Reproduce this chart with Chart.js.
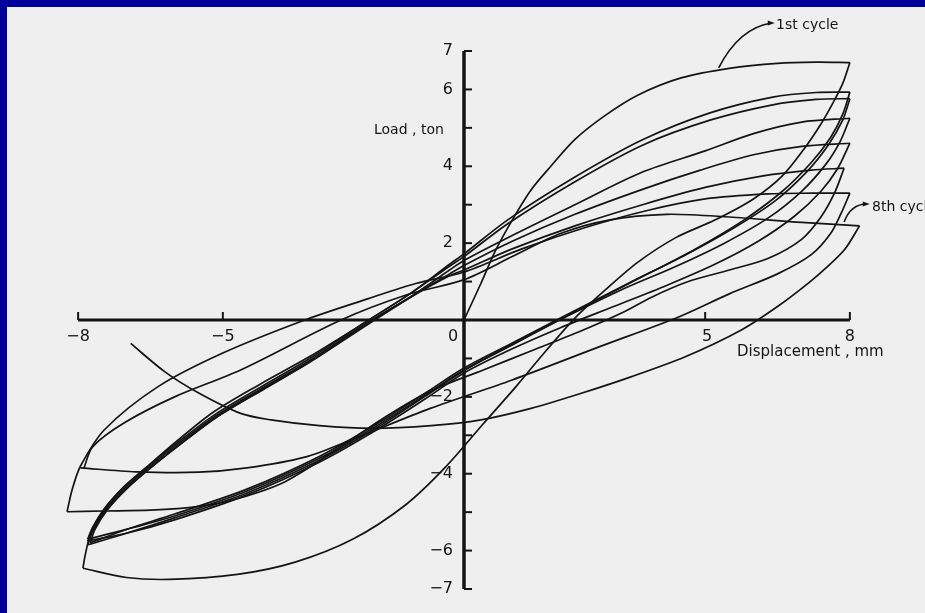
<!DOCTYPE html>
<html lang="en">
<head>
<meta charset="UTF-8">
<title>Load - displacement cycles</title>
<script src="https://cdn.jsdelivr.net/npm/chart.js"></script>
<style>
  body { margin: 0; padding: 0; }
  #frame { position: relative; width: 925px; height: 613px; background: #00009a; overflow: hidden; }
  #paper { position: absolute; left: 7px; top: 7px; right: 0; bottom: 0; background: #efefef; }
  #chart { position: absolute; left: 0; top: 0; }
</style>
</head>
<body>

<div id="frame">
  <div id="paper"></div>
  <canvas id="chart" width="925" height="613"></canvas>
</div>

<script>
// displacement (mm), load (ton) pairs for each branch of the test
const virgin = [[0,0],[0.35,0.95],[0.65,1.8],[1.0,2.6],[1.4,3.4],[1.8,4.0],[2.3,4.7],[2.9,5.3],[3.6,5.85],[4.5,6.3],[5.5,6.55],[6.5,6.68],[7.3,6.71],[8.0,6.7]];

// unloading / reverse loading, right peak -> left peak
const down1 = [[8.0,6.7],[7.85,6.15],[7.65,5.65],[7.4,5.1],[7.05,4.45],[6.6,3.75],[6.0,3.15],[5.2,2.6],[4.4,2.15],[3.6,1.5],[2.9,0.75],[2.3,0.05],[1.7,-0.8],[1.1,-1.7],[0.4,-2.7],[-0.4,-3.85],[-1.2,-4.8],[-2.3,-5.7],[-3.5,-6.3],[-4.7,-6.62],[-6.1,-6.75],[-7.0,-6.7],[-7.9,-6.46]];
const down2 = [[8.0,5.93],[7.85,5.35],[7.6,4.75],[7.2,4.1],[6.6,3.35],[5.8,2.6],[4.8,1.85],[3.5,1.0],[2.0,0.02],[1.0,-0.65],[0,-1.3],[-0.8,-1.95],[-1.8,-2.75],[-3.0,-3.6],[-4.5,-4.45],[-6.0,-5.1],[-7.0,-5.45],[-7.8,-5.7]];
const down3 = [[8.0,5.76],[7.85,5.2],[7.55,4.55],[7.1,3.85],[6.45,3.1],[5.6,2.4],[4.6,1.7],[3.4,0.95],[2.0,0.05],[1.0,-0.6],[0,-1.25],[-0.8,-1.9],[-1.8,-2.7],[-3.0,-3.55],[-4.5,-4.4],[-6.0,-5.05],[-7.0,-5.45],[-7.75,-5.8]];
const down4 = [[8.0,5.25],[7.8,4.65],[7.5,4.05],[7.0,3.35],[6.3,2.65],[5.4,2.0],[4.4,1.4],[3.2,0.75],[1.9,-0.05],[0.9,-0.7],[0,-1.32],[-0.8,-1.98],[-1.8,-2.8],[-3.0,-3.65],[-4.5,-4.5],[-6.0,-5.15],[-7.0,-5.55],[-7.8,-5.85]];
const down5 = [[8.0,4.6],[7.75,3.95],[7.4,3.35],[6.85,2.7],[6.1,2.05],[5.2,1.45],[4.2,0.9],[3.1,0.35],[2.0,-0.2],[1.0,-0.75],[0,-1.38],[-0.8,-2.05],[-1.8,-2.85],[-3.0,-3.7],[-4.5,-4.55],[-6.0,-5.2],[-7.0,-5.55],[-7.8,-5.75]];
const down6 = [[7.88,3.95],[7.68,3.3],[7.4,2.68],[7.0,2.1],[6.3,1.6],[5.5,1.3],[4.65,1.0],[3.9,0.6],[3.3,0.2],[2.4,-0.3],[1.4,-0.8],[0.4,-1.3],[-0.7,-1.85],[-1.6,-2.5],[-2.5,-3.25],[-3.7,-4.2],[-4.7,-4.65],[-5.5,-4.85],[-6.5,-4.95],[-7.5,-4.97],[-8.23,-4.99]];
const down7 = [[8.0,3.3],[7.82,2.78],[7.6,2.25],[7.2,1.7],[6.5,1.2],[5.5,0.68],[4.45,0.08],[2.8,-0.7],[1.0,-1.56],[-0.7,-2.3],[-2.3,-3.1],[-3.3,-3.57],[-4.5,-3.85],[-5.5,-3.96],[-6.8,-3.95],[-7.95,-3.85]];
const down8 = [[8.2,2.45],[7.9,1.85],[7.5,1.35],[7.14,0.96],[6.5,0.35],[5.75,-0.26],[4.6,-0.95],[3.46,-1.48],[2.4,-1.92],[1.39,-2.3],[0.35,-2.6],[-0.68,-2.75],[-1.9,-2.82],[-3.0,-2.75],[-4.0,-2.6],[-4.63,-2.43],[-5.5,-1.9],[-6.2,-1.35],[-6.91,-0.61]];

// reloading, left peak -> next right peak
const up1 = [[-7.9,-6.46],[-7.85,-6.1],[-7.75,-5.6],[-7.5,-5.0],[-7.1,-4.4],[-6.6,-3.85],[-6.0,-3.2],[-5.2,-2.4],[-4.2,-1.65],[-3.2,-0.95],[-2.1,-0.1],[-1.1,0.7],[-0.3,1.45],[0,1.72],[0.9,2.6],[2.3,3.72],[3.7,4.69],[5.1,5.39],[6.4,5.8],[7.3,5.92],[8.0,5.93]];
const up2 = [[-7.8,-5.7],[-7.7,-5.4],[-7.45,-4.9],[-7.05,-4.35],[-6.55,-3.8],[-5.95,-3.2],[-5.15,-2.45],[-4.15,-1.7],[-3.2,-1.0],[-2.1,-0.1],[-1.1,0.7],[-0.3,1.4],[0,1.65],[0.9,2.5],[2.3,3.6],[3.7,4.55],[5.1,5.2],[6.4,5.6],[7.3,5.74],[8.0,5.76]];
const up3 = [[-7.75,-5.8],[-7.65,-5.45],[-7.4,-4.95],[-7.0,-4.4],[-6.5,-3.85],[-5.9,-3.25],[-5.1,-2.5],[-4.1,-1.75],[-3.15,-1.05],[-2.05,-0.12],[-1.05,0.65],[-0.3,1.3],[0,1.55],[1.0,2.2],[2.3,3.0],[3.7,3.85],[5.0,4.4],[6.0,4.85],[7.0,5.15],[8.0,5.25]];
const up4 = [[-7.8,-5.85],[-7.7,-5.5],[-7.45,-5.0],[-7.05,-4.45],[-6.55,-3.9],[-5.95,-3.3],[-5.15,-2.55],[-4.15,-1.8],[-3.2,-1.1],[-2.1,-0.2],[-1.1,0.6],[-0.3,1.2],[0,1.42],[1.0,2.05],[2.3,2.75],[3.7,3.4],[4.9,3.9],[6.0,4.3],[7.0,4.52],[8.0,4.6]];
const up5 = [[-7.8,-5.75],[-7.7,-5.45],[-7.45,-4.95],[-7.05,-4.4],[-6.55,-3.85],[-5.95,-3.25],[-5.15,-2.5],[-4.15,-1.75],[-3.2,-1.05],[-2.1,-0.15],[-1.1,0.6],[-0.3,1.15],[0,1.3],[1.0,1.85],[2.3,2.45],[3.7,3.0],[5.0,3.45],[6.2,3.75],[7.2,3.9],[7.88,3.95]];
const up6 = [[-8.23,-4.99],[-8.12,-4.4],[-7.95,-3.8],[-7.45,-2.85],[-6.35,-1.74],[-5.0,-0.86],[-3.3,0.0],[-2.0,0.55],[-1.0,0.95],[0,1.25],[1.2,1.85],[2.5,2.4],[3.8,2.85],[5.0,3.15],[6.3,3.28],[7.2,3.3],[8.0,3.3]];
const up7 = [[-7.88,-3.86],[-7.7,-3.3],[-7.05,-2.68],[-6.0,-2.0],[-4.63,-1.3],[-2.55,0.0],[-1.2,0.65],[0,1.05],[1.0,1.65],[2.0,2.25],[3.0,2.6],[4.2,2.75],[5.5,2.68],[7.0,2.54],[8.2,2.45]];

const branches = [virgin, down1, up1, down2, up2, down3, up3, down4, up4, down5, up5, down6, up6, down7, up7, down8];

// axis ticks and labels
const xTicks = [-8, -5, 5, 8];
const xLabels = [-8, -5, 0, 5, 8];
const yTicks = [-7, -6, -5, -4, -3, -2, -1, 1, 2, 3, 4, 5, 6, 7];
const yLabels = [7, 6, 4, 2, -2, -4, -6, -7];

// callouts: text, text position, leader start, bend, end (data units)
const notes = [
  { text: '1st cycle', at: [6.47, 7.68], from: [6.38, 7.73], bend: [5.7, 7.6], to: [5.28, 6.56] },
  { text: '8th cycle', at: [8.46, 2.94], from: [8.35, 3.02], bend: [8.02, 3.02], to: [7.88, 2.55] }
];

const INK = '#141414';
const FONT = "'DejaVu Sans', sans-serif";

function minus(v) {
  return v < 0 ? '\u2212' + Math.abs(v) : String(v);
}

// axes drawn through the origin, ticks on the inside like the original plot
const axesPlugin = {
  id: 'crossAxes',
  beforeDatasetsDraw(chart) {
    const ctx = chart.ctx;
    const xs = chart.scales.x, ys = chart.scales.y;
    const x0 = xs.getPixelForValue(0), y0 = ys.getPixelForValue(0);
    ctx.save();
    ctx.strokeStyle = INK;
    ctx.lineCap = 'butt';

    ctx.lineWidth = 3;
    ctx.beginPath();
    ctx.moveTo(xs.getPixelForValue(-8), y0);
    ctx.lineTo(xs.getPixelForValue(8), y0);
    ctx.stroke();

    ctx.lineWidth = 3.5;
    ctx.beginPath();
    ctx.moveTo(x0, ys.getPixelForValue(7));
    ctx.lineTo(x0, ys.getPixelForValue(-7));
    ctx.stroke();

    ctx.lineWidth = 2;
    xTicks.forEach(v => {
      const p = xs.getPixelForValue(v);
      ctx.beginPath();
      ctx.moveTo(p, y0);
      ctx.lineTo(p, y0 - 8);
      ctx.stroke();
    });
    yTicks.forEach(v => {
      const p = ys.getPixelForValue(v);
      ctx.beginPath();
      ctx.moveTo(x0, p);
      ctx.lineTo(x0 + 8, p);
      ctx.stroke();
    });

    ctx.fillStyle = INK;
    ctx.font = '16px ' + FONT;
    ctx.textBaseline = 'middle';
    ctx.textAlign = 'center';
    xLabels.forEach(v => {
      const p = v === 0 ? x0 - 11 : xs.getPixelForValue(v) + (v === 5 ? 2 : 0);
      ctx.fillText(minus(v), p, y0 + 17);
    });
    ctx.textAlign = 'right';
    yLabels.forEach(v => {
      ctx.fillText(minus(v), x0 - 11, ys.getPixelForValue(v));
    });

    ctx.textAlign = 'left';
    ctx.font = '14px ' + FONT;
    ctx.fillText('Load , ton', 374, 130);
    ctx.font = '15px ' + FONT;
    ctx.fillText('Displacement , mm', 737, 352);
    ctx.restore();
  },
  afterDatasetsDraw(chart) {
    const ctx = chart.ctx;
    const xs = chart.scales.x, ys = chart.scales.y;
    const px = p => [xs.getPixelForValue(p[0]), ys.getPixelForValue(p[1])];
    ctx.save();
    ctx.strokeStyle = INK;
    ctx.fillStyle = INK;
    ctx.lineWidth = 1.6;
    ctx.font = '14px ' + FONT;
    ctx.textBaseline = 'middle';
    ctx.textAlign = 'left';
    notes.forEach(n => {
      const a = px(n.from), b = px(n.bend), c = px(n.to), t = px(n.at);
      ctx.beginPath();
      ctx.moveTo(c[0], c[1]);
      ctx.quadraticCurveTo(b[0], b[1], a[0], a[1]);
      ctx.stroke();
      ctx.beginPath();
      ctx.moveTo(a[0] + 3, a[1]);
      ctx.lineTo(a[0] - 4, a[1] - 2.5);
      ctx.lineTo(a[0] - 4, a[1] + 2.5);
      ctx.closePath();
      ctx.fill();
      ctx.fillText(n.text, t[0], t[1]);
    });
    ctx.restore();
  }
};

const datasets = branches.map(b => ({
  data: b.map(p => ({ x: p[0], y: p[1] })),
  showLine: true,
  borderColor: INK,
  borderWidth: 1.7,
  pointRadius: 0,
  tension: 0.3,
  fill: false,
  clip: false
}));

// x range a little wider than the drawn axis so the end points past +/-8 mm are kept
new Chart(document.getElementById('chart'), {
  type: 'scatter',
  data: { datasets: datasets },
  options: {
    responsive: false,
    animation: false,
    layout: { padding: { left: 54, right: 51, top: 51, bottom: 24 } },
    plugins: { legend: { display: false }, tooltip: { enabled: false } },
    scales: {
      x: { type: 'linear', min: -8.5, max: 8.5, display: false },
      y: { type: 'linear', min: -7, max: 7, display: false }
    }
  },
  plugins: [axesPlugin]
});
</script>
</body>
</html>
